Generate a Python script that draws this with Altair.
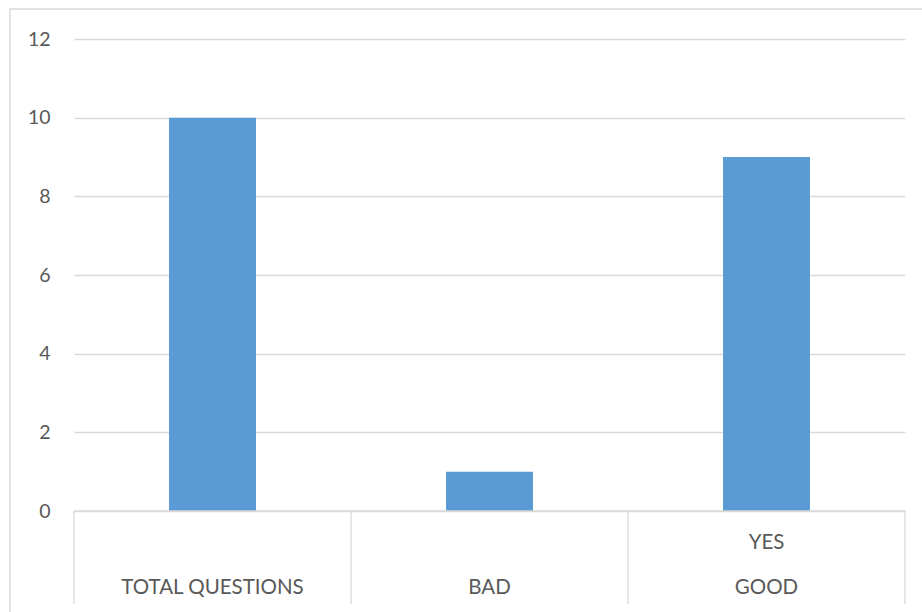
import altair as alt
import pandas as pd

categories = ["TOTAL QUESTIONS", "BAD", "GOOD"]
values = [10, 1, 9]
sublabels = ["", "", "YES"]
y_ticks = [0, 2, 4, 6, 8, 10, 12]

df = pd.DataFrame({"category": categories, "value": values, "sub": sublabels})
edges = pd.DataFrame({"category": categories + ["GOOD"], "pos": [0, 0, 0, 1]})

FONT = "Lato"
GREY = "#595959"
LINE = "#d9d9d9"

xscale = alt.Scale(domain=categories, paddingInner=0, paddingOuter=0)

base = alt.Chart(df)

bars = base.mark_bar(width=alt.RelativeBandSize(0.314), color="#5B9BD5").encode(
    x=alt.X("category:N", scale=xscale, axis=None),
    y=alt.Y(
        "value:Q",
        scale=alt.Scale(domain=[0, 12], nice=False),
        axis=alt.Axis(
            values=y_ticks,
            grid=True,
            gridColor=LINE,
            gridWidth=1.3,
            domain=False,
            ticks=False,
            labelFont=FONT,
            labelFontSize=19.5,
            labelColor=GREY,
            labelPadding=24,
            title=None,
        ),
    ),
)

main_labels = base.mark_text(font=FONT, fontSize=20.5, color=GREY, baseline="middle").encode(
    x=alt.X("category:N", scale=xscale, axis=None),
    y=alt.value(549),
    text="category:N",
)

sub_labels = base.mark_text(font=FONT, fontSize=20.5, color=GREY, baseline="middle").encode(
    x=alt.X("category:N", scale=xscale, axis=None),
    y=alt.value(503.5),
    text="sub:N",
)

seps = []
for p in [0, 1]:
    seps.append(
        alt.Chart(edges[edges["pos"] == p]).mark_rule(color=LINE, strokeWidth=1.3).encode(
            x=alt.X("category:N", scale=xscale, axis=None, bandPosition=p),
            y=alt.value(472),
            y2=alt.value(565),
        )
    )

bottom = alt.Chart(df.head(1)).mark_rule(color=LINE, strokeWidth=1.3).encode(
    x=alt.value(0), x2=alt.value(831), y=alt.value(472)
)

border = alt.Chart(df.head(1)).mark_rect(fillOpacity=0, fill="white", stroke=LINE, strokeWidth=1.5).encode(
    x=alt.value(-64), x2=alt.value(900), y=alt.value(-30), y2=alt.value(700)
)

chart = (
    alt.layer(border, bars, bottom, *seps, main_labels, sub_labels)
    .properties(
        width=831,
        height=472,
        autosize=alt.AutoSizeParams(type="none"),
        padding={"left": 74, "top": 39, "right": 17, "bottom": 101},
        background="white",
    )
    .configure_view(stroke=None)
)

chart.save("out.html", embed_options={"renderer": "svg", "actions": False})
